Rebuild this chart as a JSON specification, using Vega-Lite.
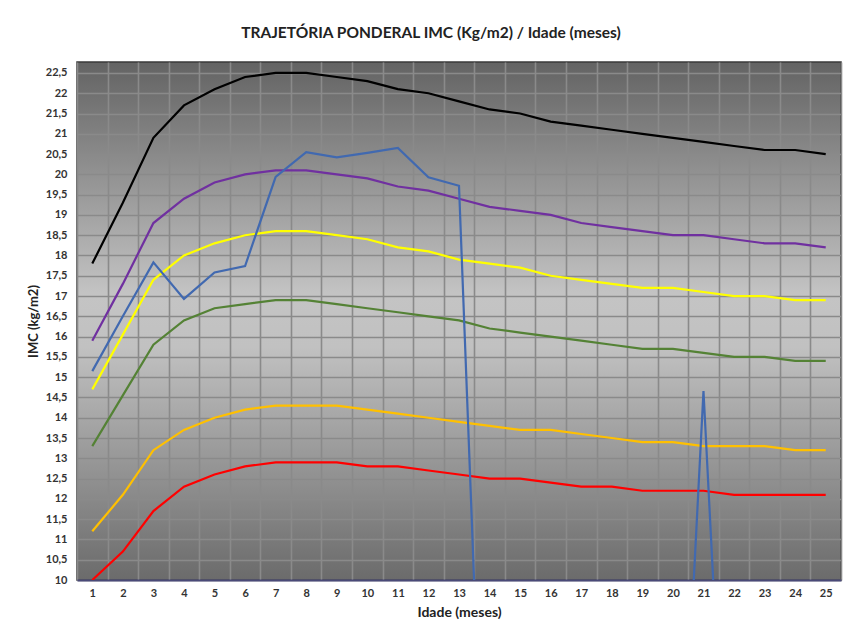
{
  "$schema": "https://vega.github.io/schema/vega-lite/v6.json",
  "width": 764,
  "height": 518,
  "autosize": "none",
  "padding": {"left": 77, "top": 62, "right": 7, "bottom": 54},
  "background": "white",
  "title": {
    "text": "TRAJETÓRIA PONDERAL IMC (Kg/m2) / Idade (meses)",
    "font": "Lato",
    "fontSize": 15.5,
    "fontWeight": "bold",
    "color": "#222222",
    "anchor": "middle",
    "frame": "group",
    "dx": -28,
    "offset": 21
  },
  "config": {
    "view": {
      "fill": {
        "gradient": "linear",
        "x1": 0, "y1": 0, "x2": 0, "y2": 1,
        "stops": [
          {"offset": 0, "color": "#636363"},
          {"offset": 0.45, "color": "#c4c4c4"},
          {"offset": 0.55, "color": "#c1c1c1"},
          {"offset": 1, "color": "#6b6b6b"}
        ]
      },
      "stroke": "#3a3a3a",
      "strokeWidth": 1.5
    },
    "axis": {
      "labelFont": "Lato",
      "titleFont": "Lato",
      "labelFontWeight": "bold",
      "titleFontWeight": "bold",
      "labelColor": "#333333",
      "titleColor": "#222222",
      "gridColor": "#8a8a8a",
      "gridWidth": 1.6,
      "gridOpacity": 1,
      "ticks": false
    }
  },
  "data": {
    "values": [
      {"mes": 1, "a3": 17.8, "b2": 15.9, "c1": 14.7, "d0": 13.3, "e2": 11.2, "f3": 10.0, "zp": 15.15},
      {"mes": 2, "a3": 19.3, "b2": 17.3, "c1": 16.05, "d0": 14.55, "e2": 12.1, "f3": 10.7, "zp": 16.5},
      {"mes": 3, "a3": 20.9, "b2": 18.8, "c1": 17.4, "d0": 15.8, "e2": 13.2, "f3": 11.7, "zp": 17.83},
      {"mes": 4, "a3": 21.7, "b2": 19.4, "c1": 18.0, "d0": 16.4, "e2": 13.7, "f3": 12.3, "zp": 16.93},
      {"mes": 5, "a3": 22.1, "b2": 19.8, "c1": 18.3, "d0": 16.7, "e2": 14.0, "f3": 12.6, "zp": 17.58},
      {"mes": 6, "a3": 22.4, "b2": 20.0, "c1": 18.5, "d0": 16.8, "e2": 14.2, "f3": 12.8, "zp": 17.74},
      {"mes": 7, "a3": 22.5, "b2": 20.1, "c1": 18.6, "d0": 16.9, "e2": 14.3, "f3": 12.9, "zp": 19.94},
      {"mes": 8, "a3": 22.5, "b2": 20.1, "c1": 18.6, "d0": 16.9, "e2": 14.3, "f3": 12.9, "zp": 20.55},
      {"mes": 9, "a3": 22.4, "b2": 20.0, "c1": 18.5, "d0": 16.8, "e2": 14.3, "f3": 12.9, "zp": 20.42},
      {"mes": 10, "a3": 22.3, "b2": 19.9, "c1": 18.4, "d0": 16.7, "e2": 14.2, "f3": 12.8, "zp": 20.53},
      {"mes": 11, "a3": 22.1, "b2": 19.7, "c1": 18.2, "d0": 16.6, "e2": 14.1, "f3": 12.8, "zp": 20.65},
      {"mes": 12, "a3": 22.0, "b2": 19.6, "c1": 18.1, "d0": 16.5, "e2": 14.0, "f3": 12.7, "zp": 19.93},
      {"mes": 13, "a3": 21.8, "b2": 19.4, "c1": 17.9, "d0": 16.4, "e2": 13.9, "f3": 12.6, "zp": 19.72},
      {"mes": 14, "a3": 21.6, "b2": 19.2, "c1": 17.8, "d0": 16.2, "e2": 13.8, "f3": 12.5, "zp": 0},
      {"mes": 15, "a3": 21.5, "b2": 19.1, "c1": 17.7, "d0": 16.1, "e2": 13.7, "f3": 12.5, "zp": 0},
      {"mes": 16, "a3": 21.3, "b2": 19.0, "c1": 17.5, "d0": 16.0, "e2": 13.7, "f3": 12.4, "zp": 0},
      {"mes": 17, "a3": 21.2, "b2": 18.8, "c1": 17.4, "d0": 15.9, "e2": 13.6, "f3": 12.3, "zp": 0},
      {"mes": 18, "a3": 21.1, "b2": 18.7, "c1": 17.3, "d0": 15.8, "e2": 13.5, "f3": 12.3, "zp": 0},
      {"mes": 19, "a3": 21.0, "b2": 18.6, "c1": 17.2, "d0": 15.7, "e2": 13.4, "f3": 12.2, "zp": 0},
      {"mes": 20, "a3": 20.9, "b2": 18.5, "c1": 17.2, "d0": 15.7, "e2": 13.4, "f3": 12.2, "zp": 0},
      {"mes": 21, "a3": 20.8, "b2": 18.5, "c1": 17.1, "d0": 15.6, "e2": 13.3, "f3": 12.2, "zp": 14.66},
      {"mes": 22, "a3": 20.7, "b2": 18.4, "c1": 17.0, "d0": 15.5, "e2": 13.3, "f3": 12.1, "zp": 0},
      {"mes": 23, "a3": 20.6, "b2": 18.3, "c1": 17.0, "d0": 15.5, "e2": 13.3, "f3": 12.1, "zp": 0},
      {"mes": 24, "a3": 20.6, "b2": 18.3, "c1": 16.9, "d0": 15.4, "e2": 13.2, "f3": 12.1, "zp": 0},
      {"mes": 25, "a3": 20.5, "b2": 18.2, "c1": 16.9, "d0": 15.4, "e2": 13.2, "f3": 12.1, "zp": 0}
    ]
  },
  "transform": [
    {"fold": ["a3", "b2", "c1", "d0", "e2", "f3", "zp"], "as": ["serie", "imc"]}
  ],
  "mark": {"type": "line", "strokeWidth": 2.2, "clip": true},
  "encoding": {
    "x": {
      "field": "mes",
      "type": "ordinal",
      "scale": {"paddingInner": 0, "paddingOuter": 0},
      "axis": {
        "title": "Idade (meses)",
        "titleFontSize": 14,
        "titlePadding": 7,
        "labelFontSize": 11,
        "labelAngle": 0,
        "labelPadding": 7,
        "tickBand": "extent",
        "grid": true,
        "domainColor": "#4a4a78",
        "domainWidth": 2
      }
    },
    "y": {
      "field": "imc",
      "type": "quantitative",
      "scale": {"domain": [10, 22.77], "nice": false, "zero": false},
      "axis": {
        "title": "IMC (kg/m2)",
        "titleFontSize": 13,
        "titlePadding": 5,
        "labelFontSize": 11,
        "labelPadding": 10,
        "domain": false,
        "values": [10, 10.5, 11, 11.5, 12, 12.5, 13, 13.5, 14, 14.5, 15, 15.5, 16, 16.5, 17, 17.5, 18, 18.5, 19, 19.5, 20, 20.5, 21, 21.5, 22, 22.5],
        "labelExpr": "replace(toString(datum.value), '.', ',')"
      }
    },
    "color": {
      "field": "serie",
      "type": "nominal",
      "scale": {
        "domain": ["a3", "b2", "c1", "d0", "e2", "f3", "zp"],
        "range": ["#000000", "#7030a0", "#ffff00", "#548235", "#ffc000", "#ff0000", "#4169b0"]
      },
      "legend": null
    }
  }
}
